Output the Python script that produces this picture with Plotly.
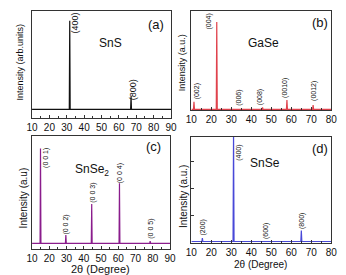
import plotly.graph_objects as go

# ---------------- data (2θ in degrees, intensity in arbitrary units) ----------------
sns_pos = [31.7, 67.0]
sns_int = [88.6, 12.6]
sns_hkl = ["(400)", "(800)"]

gase_pos = [11.3, 22.7, 34.0, 45.6, 57.8, 70.9]
gase_int = [7.6, 87.3, 0.5, 2.0, 9.3, 4.3]
gase_hkl = ["(002)", "(004)", "(006)", "(008)", "(0010)", "(0012)"]

snse2_pos = [14.9, 29.6, 44.6, 60.7, 78.5]
snse2_int = [95.0, 8.3, 39.3, 60.0, 2.3]
snse2_hkl = ["(0 0 1)", "(0 0 2)", "(0 0 3)", "(0 0 4)", "(0 0 5)"]

snse_pos = [15.5, 31.1, 47.0, 65.0]
snse_int = [3.4, 110.0, 0.6, 11.0]
snse_hkl = ["(200)", "(400)", "(600)", "(800)"]

# label anchor positions (data coords of each panel)
sns_lx = [35.0, 68.3];   sns_ly = [86.3, 19.3]
gase_lx = [13.0, 18.35, 33.7, 44.4, 56.8, 71.3]
gase_ly = [18.3, 87.8, 11.3, 12.3, 21.3, 18.3]
snse2_lx = [17.7, 29.7, 44.85, 61.1, 78.8]
snse2_ly = [85.8, 18.8, 50.8, 70.3, 14.3]
snse_lx = [15.9, 34.0, 47.7, 65.4]
snse_ly = [14.2, 89.2, 10.2, 20.7]

FONT = "Liberation Sans, Arial, sans-serif"


def spectrum(xmin, xmax, pos, inten, hw=0.25, base=0.0):
    xs, ys = [xmin], [base]
    for p, h in zip(pos, inten):
        xs += [p - hw, p, p + hw]
        ys += [base, h, base]
    xs.append(xmax)
    ys.append(base)
    return xs, ys


fig = go.Figure()

panels = [
    ("", "#111111", sns_pos, sns_int, [10, 90], [-8.7, 98.3], [0.078, 0.494], [0.571, 0.960]),
    ("2", "#e0424c", gase_pos, gase_int, [10, 80], [-0.7, 98.3], [0.555, 0.974], [0.600, 0.960]),
    ("3", "#8a1c8c", snse2_pos, snse2_int, [10, 90], [-5.7, 107.3], [0.078, 0.491], [0.0945, 0.505]),
    ("4", "#4848d8", snse_pos, snse_int, [10, 80], [-1.6, 104.7], [0.555, 0.974], [0.116, 0.502]),
]

for key, col, pos, inten, xr, yr, dx, dy in panels:
    xs, ys = spectrum(xr[0], xr[1], pos, inten)
    fig.add_trace(go.Scatter(x=xs, y=ys, mode="lines",
                             line=dict(color=col, width=1.2),
                             xaxis="x" + key, yaxis="y" + key,
                             showlegend=False, hoverinfo="skip"))
    xa = dict(domain=dx, range=xr, anchor="y" + key, showgrid=False, zeroline=False,
              showline=True, linecolor="#333333", linewidth=1, mirror=True,
              ticks="inside", ticklen=3, tickcolor="#333333", dtick=10, tick0=10,
              minor=dict(ticks="inside", ticklen=2, dtick=5, tickcolor="#333333"),
              tickfont=dict(family=FONT, size=10, color="#111111"))
    ya = dict(domain=dy, range=yr, anchor="x" + key, showgrid=False, zeroline=False,
              showline=True, linecolor="#333333", linewidth=1, mirror=True,
              showticklabels=False, ticks="")
    if key == "4":
        ya.update(ticks="inside", ticklen=3, tickcolor="#333333", tick0=-1, dtick=27)
    fig.layout["xaxis" + key] = xa
    fig.layout["yaxis" + key] = ya

ann = []


def peak_labels(key, labels, lx, ly, size):
    for t, x, y in zip(labels, lx, ly):
        ann.append(dict(text=t, x=x, y=y, xref="x" + key, yref="y" + key,
                        textangle=-90, showarrow=False, xanchor="center", yanchor="middle",
                        font=dict(family=FONT, size=size, color="#111111")))


peak_labels("", sns_hkl, sns_lx, sns_ly, 9)
peak_labels("2", gase_hkl, gase_lx, gase_ly, 7)
peak_labels("3", snse2_hkl, snse2_lx, snse2_ly, 7)
peak_labels("4", snse_hkl, snse_lx, snse_ly, 7)


def text(key, t, x, y, size):
    ann.append(dict(text=t, x=x, y=y, xref="x" + key, yref="y" + key, showarrow=False,
                    xanchor="center", yanchor="middle",
                    font=dict(family=FONT, size=size, color="#111111")))


text("", "SnS", 55.0, 66.3, 12)
text("", "(a)", 81.1, 85.3, 13)
text("2", "GaSe", 46.1, 66.3, 12)
text("2", "(b)", 74.2, 87.3, 13)
text("3", "SnSe<sub>2</sub>", 44.6, 73.5, 12)
text("3", "(c)", 80.5, 96.6, 13)
text("4", "SnSe", 46.6, 78.4, 12)
text("4", "(d)", 74.2, 92.7, 13)


def ptext(t, x, y, size, angle=0):
    ann.append(dict(text=t, x=x / 346, y=1 - y / 275, xref="paper", yref="paper",
                    showarrow=False, textangle=angle, xanchor="center", yanchor="middle",
                    font=dict(family=FONT, size=size, color="#111111")))


ptext("Intensity (arb.units)", 15, 62, 9, -90)
ptext("Intensity (a.u.)", 182.7, 63, 9, -90)
ptext("Intensity (a.u)", 18, 198, 10, -90)
ptext("Intensity (a.u.)", 183.3, 196, 10, -90)
ptext("2θ (Degree)", 98, 269, 11)
ptext("2θ (Degree)", 264, 264.5, 10)

fig.update_layout(width=346, height=275, margin=dict(l=0, r=0, t=0, b=0),
                  paper_bgcolor="white", plot_bgcolor="white", annotations=ann,
                  showlegend=False)

fig.write_html("out.html")
